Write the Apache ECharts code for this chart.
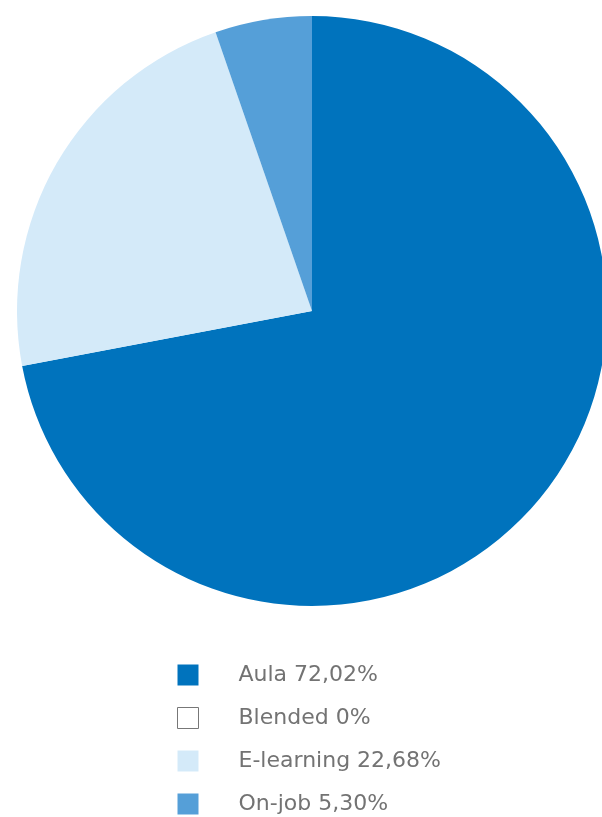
<!DOCTYPE html>
<html>
<head>
<meta charset="utf-8">
<script src="https://cdn.jsdelivr.net/npm/echarts@6/dist/echarts.min.js"></script>
<style>
  html, body { margin: 0; padding: 0; background: #ffffff; }
  #chart { width: 602px; height: 817px; }
</style>
</head>
<body>
<div id="chart"></div>
<script>
// Training modality shares (percent)
const categories = ['Aula', 'Blended', 'E-learning', 'On-job'];
const shares = [72.02, 0, 22.68, 5.30];
const shareLabels = ['72,02%', '0%', '22,68%', '5,30%'];
const colors = ['#0073bd', '#ffffff', '#d4eaf9', '#559fd8'];

const chart = echarts.init(document.getElementById('chart'), null, { renderer: 'canvas' });

const pieData = categories.map((name, i) => ({
  name: name,
  value: shares[i],
  itemStyle: { color: colors[i] }
}));

const legendData = categories.map((name, i) => {
  const item = { name: name, itemStyle: { color: colors[i] } };
  if (name === 'Blended') {
    item.itemStyle = { color: '#ffffff', borderColor: '#777777', borderWidth: 1 };
  }
  return item;
});

chart.setOption({
  animation: false,
  backgroundColor: '#ffffff',
  legend: {
    orient: 'vertical',
    left: 177,
    top: 664,
    height: 160,
    width: 400,
    padding: 0,
    itemWidth: 21,
    itemHeight: 21,
    itemGap: 21,
    icon: 'rect',
    data: legendData,
    selectedMode: false,
    formatter: function (name) {
      return name + ' ' + shareLabels[categories.indexOf(name)];
    },
    textStyle: {
      color: '#737373',
      fontSize: 22,
      fontFamily: '"DejaVu Sans", sans-serif',
      padding: [0, 0, 0, 35]
    }
  },
  series: [{
    type: 'pie',
    center: [312, 311],
    radius: [0, 295],
    startAngle: 90,
    clockwise: true,
    label: { show: false },
    labelLine: { show: false },
    silent: true,
    itemStyle: { borderWidth: 0 },
    data: pieData
  }]
});
</script>
</body>
</html>
